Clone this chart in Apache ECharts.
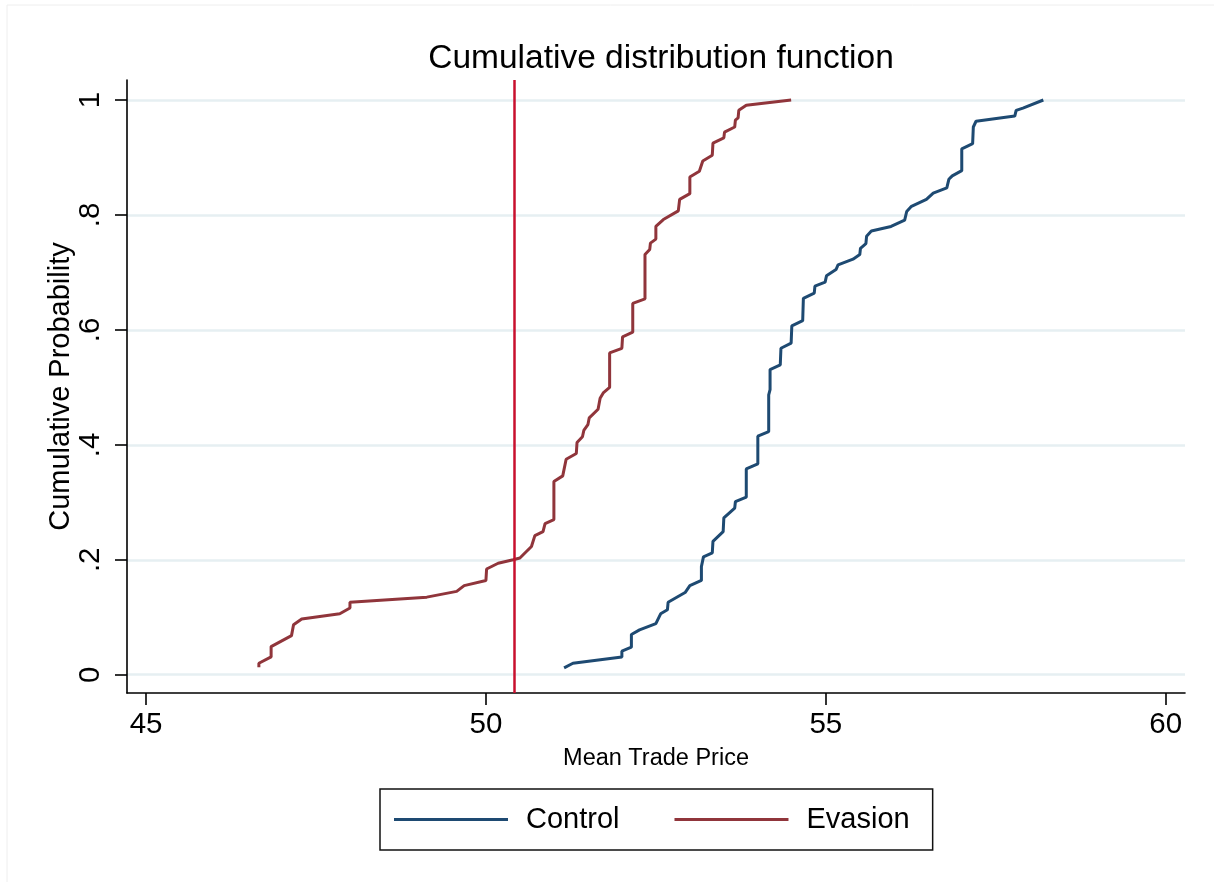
<!DOCTYPE html>
<html>
<head>
<meta charset="utf-8">
<script src="https://cdn.jsdelivr.net/npm/echarts@6/dist/echarts.min.js"></script>
<style>
  html, body { margin: 0; padding: 0; background: #fff; }
  #chart { width: 1214px; height: 882px; }
</style>
</head>
<body>
<div id="chart"></div>
<script>

const evasionX = [46.66, 46.66, 46.84, 46.84, 47.14, 47.17, 47.29, 47.85, 48.0, 48.0, 49.13, 49.57, 49.68, 50.0, 50.01, 50.18, 50.40, 50.5, 50.67, 50.72, 50.84, 50.87, 51.0, 51.0, 51.13, 51.18, 51.33, 51.34, 51.42, 51.44, 51.5, 51.52, 51.65, 51.68, 51.73, 51.82, 51.82, 52.0, 52.01, 52.16, 52.16, 52.34, 52.34, 52.41, 52.42, 52.5, 52.5, 52.61, 52.83, 52.85, 53.0, 53.0, 53.14, 53.19, 53.33, 53.34, 53.5, 53.51, 53.66, 53.67, 53.71, 53.72, 53.83, 54.49]
const evasionY = [0.013, 0.020, 0.031, 0.049, 0.068, 0.087, 0.097, 0.106, 0.116, 0.126, 0.135, 0.145, 0.155, 0.164, 0.184, 0.194, 0.200, 0.203, 0.223, 0.242, 0.249, 0.263, 0.270, 0.336, 0.346, 0.375, 0.385, 0.404, 0.414, 0.425, 0.435, 0.447, 0.462, 0.481, 0.491, 0.500, 0.560, 0.568, 0.588, 0.596, 0.646, 0.654, 0.731, 0.740, 0.751, 0.758, 0.780, 0.792, 0.807, 0.827, 0.837, 0.866, 0.876, 0.894, 0.904, 0.925, 0.934, 0.944, 0.953, 0.965, 0.969, 0.982, 0.991, 1.0]

const controlX = [51.15, 51.28, 52.0, 52.0, 52.14, 52.14, 52.26, 52.5, 52.57, 52.67, 52.68, 52.93, 53.0, 53.17, 53.17, 53.2, 53.33, 53.34, 53.49, 53.5, 53.66, 53.67, 53.83, 53.83, 54.0, 54.0, 54.16, 54.16, 54.18, 54.18, 54.33, 54.34, 54.49, 54.5, 54.66, 54.67, 54.83, 54.84, 54.99, 55.01, 55.15, 55.18, 55.4, 55.5, 55.51, 55.59, 55.6, 55.67, 55.96, 56.16, 56.19, 56.26, 56.48, 56.58, 56.78, 56.81, 56.86, 57.0, 57.0, 57.16, 57.17, 57.21, 57.78, 57.8, 57.9, 58.2]
const controlY = [0.012, 0.020, 0.031, 0.041, 0.048, 0.070, 0.078, 0.089, 0.106, 0.113, 0.126, 0.143, 0.155, 0.164, 0.188, 0.205, 0.212, 0.232, 0.249, 0.273, 0.290, 0.301, 0.309, 0.358, 0.367, 0.415, 0.423, 0.487, 0.496, 0.531, 0.539, 0.568, 0.577, 0.607, 0.616, 0.655, 0.664, 0.676, 0.683, 0.694, 0.705, 0.713, 0.723, 0.731, 0.742, 0.750, 0.763, 0.772, 0.780, 0.791, 0.806, 0.815, 0.827, 0.838, 0.847, 0.862, 0.868, 0.877, 0.915, 0.924, 0.953, 0.963, 0.972, 0.982, 0.986, 1.0]

// vertical reference line
const cutoffX = 50.41

const xTicks = [45, 50, 55, 60]
const yTicks = [0, 0.2, 0.4, 0.6, 0.8, 1]

const FONT = '"Liberation Sans", Arial, Helvetica, sans-serif'

const pairs = (xs, ys) => xs.map((x, i) => [x, ys[i]])

// Stata-style labels: ".2" instead of "0.2"
const yLabel = (v) => {
  if (v === 0 || v === 1) return String(v)
  return String(Math.round(v * 10) / 10).replace(/^0/, '')
}

const chart = echarts.init(document.getElementById('chart'), null, { renderer: 'canvas' })

chart.setOption({
  animation: false,
  backgroundColor: '#ffffff',
  title: {
    text: 'Cumulative distribution function',
    left: 656,
    top: 37,
    textAlign: 'center',
    textStyle: { fontFamily: FONT, fontSize: 33.5, fontWeight: 'normal', color: '#000' },
  },
  grid: { left: 127, right: 29, top: 80, bottom: 189, containLabel: false },
  legend: {
    left: 380,
    top: 789,
    orient: 'horizontal',
    padding: [16, 23, 16, 14],
    itemGap: 55,
    itemWidth: 114,
    itemHeight: 3,
    icon: 'rect',
    borderColor: '#111',
    borderWidth: 1.5,
    textStyle: { fontFamily: FONT, fontSize: 29, color: '#000', padding: [0, 0, 0, 13] },
    data: ['Control', 'Evasion'],
  },
  xAxis: {
    type: 'value',
    min: 44.72,
    max: 60.284,
    name: 'Mean Trade Price',
    nameLocation: 'middle',
    nameGap: 54,
    nameMoveOverlap: false,
    nameTextStyle: { fontFamily: FONT, fontSize: 23.5, color: '#000' },
    axisLine: { show: true, onZero: false, lineStyle: { color: '#000', width: 1.6 } },
    axisTick: { show: true, length: 12, customValues: xTicks, lineStyle: { color: '#000', width: 1.6 } },
    axisLabel: { customValues: xTicks, margin: 17, fontFamily: FONT, fontSize: 29.5, color: '#000' },
    splitLine: { show: false },
  },
  yAxis: {
    type: 'value',
    min: -0.0318,
    max: 1.0348,
    name: 'Cumulative Probability',
    nameLocation: 'middle',
    nameGap: 52,
    nameMoveOverlap: false,
    nameTextStyle: { fontFamily: FONT, fontSize: 29, color: '#000' },
    axisLine: { show: true, onZero: false, lineStyle: { color: '#000', width: 1.6 } },
    axisTick: { show: true, length: 12, customValues: yTicks, lineStyle: { color: '#000', width: 1.6 } },
    axisLabel: {
      customValues: yTicks,
      rotate: 90,
      margin: 21,
      fontFamily: FONT,
      fontSize: 29.5,
      color: '#000',
      formatter: yLabel,
    },
    splitLine: { show: true, lineStyle: { color: '#e6eff2', width: 2.5 } },
  },
  series: [
    {
      name: 'Control',
      type: 'line',
      data: pairs(controlX, controlY),
      showSymbol: false,
      symbol: 'none',
      clip: false,
      lineStyle: { color: '#1e4a72', width: 3 },
      itemStyle: { color: '#1e4a72' },
    },
    {
      name: 'Evasion',
      type: 'line',
      data: pairs(evasionX, evasionY),
      showSymbol: false,
      symbol: 'none',
      clip: false,
      lineStyle: { color: '#90353b', width: 3 },
      itemStyle: { color: '#90353b' },
      markLine: {
        silent: true,
        symbol: ['none', 'none'],
        label: { show: false },
        lineStyle: { color: '#c8102e', width: 2.5, type: 'solid' },
        data: [{ xAxis: cutoffX }],
      },
    },
  ],
  graphic: [
    // faint frame edge seen at the top and left of the reference image
    { type: 'line', shape: { x1: 7, y1: 5, x2: 1214, y2: 5 }, style: { stroke: '#eeeeee', lineWidth: 1 } },
    { type: 'line', shape: { x1: 7, y1: 5, x2: 7, y2: 882 }, style: { stroke: '#eeeeee', lineWidth: 1 } },
  ],
})
</script>
</body>
</html>
